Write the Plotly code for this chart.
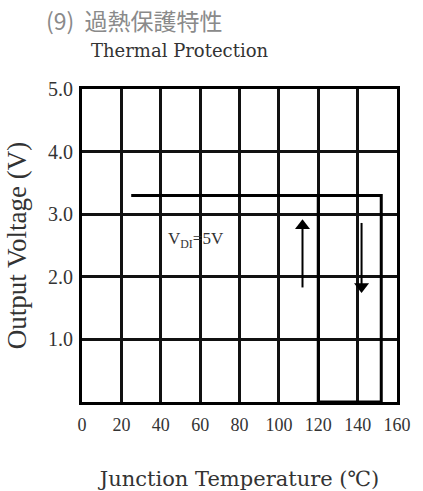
import plotly.graph_objects as go

# Hysteresis loop of output voltage vs junction temperature (V_DI = 5 V)
temp_c = [25, 152, 152, 120, 120]
vout_v = [3.3, 3.3, 0.0, 0.0, 3.3]

# Direction arrows: temperature, tail voltage, tip voltage
arrow_temp = [112, 142]
arrow_tail_v = [1.83, 2.86]
arrow_tip_v = [2.92, 1.74]

x_ticks = [0, 20, 40, 60, 80, 100, 120, 140, 160]
y_ticks = [1.0, 2.0, 3.0, 4.0, 5.0]
y_tick_text = ["1.0", "2.0", "3.0", "4.0", "5.0"]

serif = "Liberation Serif, Times New Roman, serif"
W, H = 423, 491
M_L, M_R, M_T, M_B = 82, 26, 89, 89
plot_w = W - M_L - M_R
plot_h = H - M_T - M_B

fig = go.Figure()
fig.add_trace(go.Scatter(
    x=temp_c, y=vout_v, mode="lines",
    line=dict(color="black", width=3),
    cliponaxis=False, showlegend=False, hoverinfo="skip",
))

# Arrows: a shaft plus a triangular head whose point sits at the tip voltage
head_size = 13
head_offset = (head_size / 2) / (plot_h / 5)
for t, v0, v1 in zip(arrow_temp, arrow_tail_v, arrow_tip_v):
    up = v1 > v0
    centre = v1 - head_offset if up else v1 + head_offset
    fig.add_trace(go.Scatter(
        x=[t, t], y=[v0, centre], mode="lines",
        line=dict(color="black", width=2),
        showlegend=False, hoverinfo="skip",
    ))
    fig.add_trace(go.Scatter(
        x=[t], y=[centre], mode="markers",
        marker=dict(symbol="triangle-up" if up else "triangle-down",
                    size=head_size, color="black"),
        showlegend=False, hoverinfo="skip",
    ))

fig.add_annotation(
    x=58, y=2.58, xref="x", yref="y", showarrow=False,
    text="V<sub>DI</sub>=5V", font=dict(family=serif, size=17, color="#333"),
)

# Headings placed above the plot area
fig.add_annotation(
    x=(44 - M_L) / plot_w, y=1 + (M_T - 20) / plot_h,
    xref="paper", yref="paper", showarrow=False,
    text="(9)  過熱保護特性", xanchor="left", yanchor="middle",
    font=dict(family="Noto Sans CJK JP", size=23, color="#8a8a8a"),
)
fig.add_annotation(
    x=(89 - M_L) / plot_w, y=1 + (M_T - 51) / plot_h,
    xref="paper", yref="paper", showarrow=False,
    text="Thermal Protection", xanchor="left", yanchor="middle",
    font=dict(family="DejaVu Serif, serif", size=18, color="#333"),
)

axis_common = dict(
    showgrid=True, gridcolor="#111", gridwidth=2.5,
    showline=True, linecolor="black", linewidth=3, mirror=True,
    ticks="", zeroline=False, automargin=False,
)

fig.update_xaxes(
    range=[0, 160], tickvals=x_ticks, ticklabelstandoff=4,
    tickfont=dict(family=serif, size=18, color="#333"), **axis_common,
    title=dict(text="Junction Temperature (℃)", standoff=40,
               font=dict(family="DejaVu Serif, serif", size=21, color="#333")),
)
fig.update_yaxes(
    range=[0, 5], tickvals=y_ticks, ticktext=y_tick_text, ticklabelstandoff=2,
    tickfont=dict(family=serif, size=20, color="#333"), **axis_common,
    title=dict(text="Output Voltage (V)", standoff=14,
               font=dict(family=serif, size=27, color="#333")),
)

fig.update_layout(
    width=W, height=H,
    margin=dict(l=M_L, r=M_R, t=M_T, b=M_B),
    paper_bgcolor="white", plot_bgcolor="white",
)

fig.write_html("out.html")
